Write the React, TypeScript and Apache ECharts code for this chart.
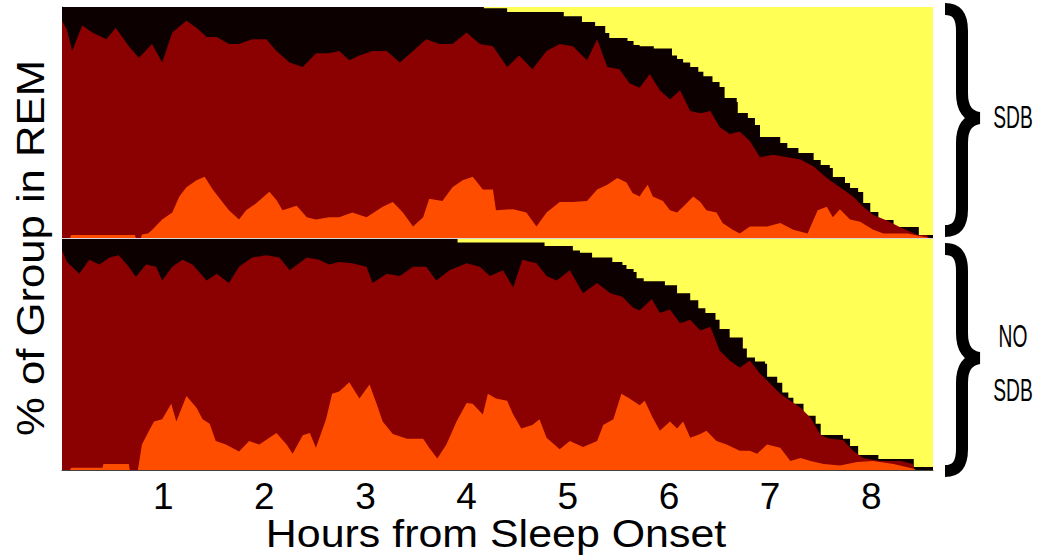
import React, { useEffect, useRef } from "react";
import * as echarts from "echarts";

// Hours from sleep onset covered by the recordings
const HOURS_MAX = 8.61;
const hourTicks = [1, 2, 3, 4, 5, 6, 7, 8];

// Colours for the four states: recording ended, awake, NREM sleep, REM sleep
const ENDED = "#FFFF55";
const WAKE = "#0D0000";
const NREM = "#8B0000";
const REM = "#FF4D00";

// SDB group, [hours, % of group]
// still recorded (awake + asleep)
const sdbRecorded: [number, number][] = [
  [0, 100], [4.17, 99.5], [4.4, 97.8], [4.96, 96], [5.14, 93.5], [5.27, 91.8], [5.37, 88.7],
  [5.41, 86.6], [5.59, 85.3], [5.65, 83.5], [5.71, 83], [5.85, 82], [6.03, 79], [6.08, 77.5],
  [6.14, 76], [6.21, 74], [6.29, 72], [6.34, 70], [6.43, 67.5], [6.5, 65.4], [6.55, 60.6],
  [6.67, 58.9], [6.68, 54.1], [6.78, 51.9], [6.85, 48.9], [6.9, 43.7], [7.1, 41.1], [7.17, 39],
  [7.28, 36.8], [7.43, 33.8], [7.5, 31.6], [7.59, 30.3], [7.62, 26.4], [7.74, 23.8], [7.79, 21.6],
  [7.87, 19.9], [7.92, 15.2], [7.99, 11.3], [8.07, 7.8], [8.22, 4.8], [8.47, 1.3], [8.61, 1.3],
];
// asleep (REM + NREM)
const sdbAsleep: [number, number][] = [
  [0, 94], [0.05, 90], [0.1, 81], [0.2, 92], [0.3, 89], [0.44, 86], [0.53, 91], [0.66, 83],
  [0.76, 78], [0.89, 84], [0.99, 76], [1.09, 89], [1.23, 94], [1.33, 91], [1.43, 87], [1.53, 87],
  [1.65, 84], [1.75, 84], [1.88, 86], [2.02, 86], [2.12, 81], [2.25, 76], [2.38, 74], [2.51, 80],
  [2.64, 80], [2.74, 81], [2.84, 77], [2.94, 79], [3.07, 81], [3.21, 81], [3.34, 76], [3.47, 81],
  [3.6, 86], [3.73, 84], [3.86, 84], [4.0, 89], [4.13, 84], [4.26, 83], [4.4, 74], [4.52, 79],
  [4.65, 73], [4.79, 81], [4.92, 84], [5.05, 83], [5.19, 77], [5.29, 86], [5.39, 74], [5.51, 73],
  [5.61, 67], [5.71, 65], [5.81, 71], [5.91, 64], [6.01, 60], [6.11, 64], [6.21, 55], [6.31, 54],
  [6.41, 55], [6.5, 48], [6.6, 45], [6.7, 46], [6.8, 42], [6.9, 35], [7.03, 36], [7.17, 35],
  [7.3, 34], [7.43, 31], [7.56, 26], [7.69, 22], [7.82, 18], [7.92, 13.5], [8.02, 10], [8.16, 7.5],
  [8.29, 4.5], [8.46, 1.3], [8.55, 1.3], [8.56, 0], [8.61, 0],
];
// in REM
const sdbRem: [number, number][] = [
  [0, 0], [0.08, 0], [0.09, 1.3], [0.72, 1.3], [0.73, 0], [0.78, 0], [0.79, 1.5], [0.85, 2],
  [0.89, 3.5], [0.99, 8], [1.09, 11], [1.16, 18], [1.23, 22], [1.33, 25], [1.41, 26.5], [1.49, 21],
  [1.57, 16.5], [1.65, 12], [1.75, 8], [1.82, 12], [1.92, 15], [2.05, 20], [2.12, 16.5], [2.18, 12],
  [2.32, 14], [2.42, 9], [2.51, 8], [2.64, 9], [2.74, 9], [2.87, 11], [3.01, 9], [3.17, 13.5],
  [3.27, 15.6], [3.37, 11], [3.47, 5], [3.57, 9], [3.63, 17], [3.76, 16], [3.86, 22], [3.96, 25],
  [4.06, 26.5], [4.16, 21], [4.26, 21], [4.29, 12], [4.46, 12.5], [4.59, 11], [4.69, 5], [4.79, 11],
  [4.92, 15.6], [5.05, 15.6], [5.19, 16], [5.29, 21], [5.39, 23], [5.49, 26], [5.58, 24], [5.64, 19.5],
  [5.71, 18], [5.74, 20], [5.79, 23], [5.84, 18], [5.94, 16], [6.01, 12], [6.08, 11], [6.14, 13.5],
  [6.24, 18], [6.31, 15.6], [6.37, 12], [6.47, 11], [6.53, 6.5], [6.63, 3.6], [6.7, 2], [6.8, 5],
  [6.97, 5], [7.1, 6.5], [7.23, 3.6], [7.37, 2], [7.47, 12], [7.56, 13.5], [7.62, 9], [7.69, 12.5],
  [7.79, 8], [7.89, 7], [8.02, 3.6], [8.12, 2], [8.36, 2], [8.49, 0.8], [8.58, 0], [8.61, 0],
];

// NO SDB group, [hours, % of group]
const noSdbRecorded: [number, number][] = [
  [0, 100], [3.91, 98.5], [4.77, 97], [5.05, 95], [5.12, 94], [5.24, 92], [5.44, 90], [5.54, 88.7],
  [5.58, 87], [5.65, 85.7], [5.68, 83], [5.75, 81.7], [5.96, 80], [6.08, 76.5], [6.21, 73.5],
  [6.29, 70], [6.36, 68], [6.46, 65], [6.5, 61], [6.6, 57.4], [6.73, 52.6], [6.77, 48.7], [6.85, 47],
  [6.95, 46], [6.97, 40.4], [7.07, 37.8], [7.12, 33.5], [7.18, 31.3], [7.23, 28.7], [7.33, 23.5],
  [7.45, 20], [7.5, 15.2], [7.72, 13.5], [7.79, 10.4], [7.87, 6.5], [8.07, 4.8], [8.42, 1.3],
  [8.61, 1.3],
];
const noSdbAsleep: [number, number][] = [
  [0, 95], [0.05, 90], [0.1, 88], [0.17, 85], [0.27, 91], [0.37, 89], [0.47, 92], [0.56, 93],
  [0.66, 88], [0.73, 83.5], [0.83, 89], [0.93, 88], [0.99, 82], [1.09, 88], [1.19, 91], [1.29, 89],
  [1.43, 82], [1.53, 85], [1.65, 81], [1.75, 88], [1.88, 92], [2.02, 93], [2.15, 92], [2.25, 86.5],
  [2.42, 92], [2.54, 91], [2.64, 89], [2.74, 90], [2.87, 89.5], [3.01, 88], [3.07, 81], [3.21, 85],
  [3.34, 84], [3.47, 88], [3.6, 88], [3.7, 82], [3.83, 86.5], [4.0, 89.5], [4.13, 88], [4.23, 84],
  [4.36, 86.5], [4.46, 79], [4.55, 91], [4.69, 89.5], [4.79, 84], [4.89, 82], [5.02, 86.5],
  [5.15, 76.5], [5.29, 81], [5.42, 76.5], [5.54, 75], [5.64, 70.5], [5.71, 69], [5.83, 74],
  [5.91, 68], [6.01, 69.5], [6.11, 63.5], [6.21, 65], [6.31, 60.4], [6.41, 62], [6.5, 51.7],
  [6.6, 47.4], [6.7, 44.3], [6.8, 47.4], [6.9, 41.7], [7.0, 37.4], [7.1, 33], [7.2, 30], [7.3, 27],
  [7.4, 22.6], [7.5, 15], [7.59, 13.5], [7.72, 13], [7.82, 8.3], [7.92, 5.2], [8.09, 3.9],
  [8.29, 3.9], [8.41, 2.6], [8.43, 0], [8.61, 0],
];
const noSdbRem: [number, number][] = [
  [0, 0], [0.08, 0], [0.09, 1], [0.4, 1], [0.41, 2.6], [0.66, 2.6], [0.67, 0], [0.75, 0],
  [0.76, 2.6], [0.79, 11], [0.86, 17], [0.91, 21], [0.99, 22], [1.08, 28.7], [1.13, 21], [1.23, 32],
  [1.33, 27], [1.39, 22], [1.46, 20], [1.52, 12.6], [1.62, 11], [1.75, 8], [1.85, 12.6], [1.95, 11],
  [2.05, 14], [2.12, 16], [2.22, 11], [2.28, 7], [2.38, 15], [2.45, 16], [2.51, 9.6], [2.61, 22],
  [2.67, 33], [2.74, 34], [2.84, 38], [2.94, 31], [3.04, 37], [3.11, 28.7], [3.17, 21], [3.27, 15.6],
  [3.41, 13.5], [3.57, 13.5], [3.63, 9.6], [3.71, 5], [3.8, 11], [3.9, 21], [4.0, 29], [4.06, 28.7],
  [4.16, 24], [4.21, 33], [4.29, 31], [4.4, 30], [4.46, 24], [4.54, 18], [4.65, 19.5], [4.72, 22],
  [4.79, 14], [4.92, 9], [5.02, 12.6], [5.15, 10], [5.29, 12.6], [5.35, 19.5], [5.45, 22], [5.53, 33],
  [5.61, 31], [5.71, 28], [5.76, 30], [5.84, 22.6], [5.91, 17], [6.01, 21], [6.08, 18], [6.14, 21],
  [6.21, 14], [6.31, 15.6], [6.37, 17], [6.47, 12.6], [6.57, 11], [6.7, 8.3], [6.8, 8.3], [6.87, 7],
  [6.97, 11], [7.1, 9.6], [7.2, 3.9], [7.3, 5.2], [7.4, 3.9], [7.53, 2.6], [7.69, 2], [7.86, 3.5],
  [8.02, 3.9], [8.22, 2.6], [8.42, 0.5], [8.44, 0], [8.61, 0],
];

const yAxisLabel = "% of Group in REM";
const xAxisLabel = "Hours from Sleep Onset";
const groupLabels = [["SDB"], ["NO", "SDB"]];

const FONT = '"Liberation Sans", Arial, Helvetica, sans-serif';

// Curly brace outline (centre line of a thick stroke), 234 px tall
const BRACE_D =
  "M 0 6 C 11 6 17 12 17 28 L 17 90 C 17 106 23 113 34 115 " +
  "C 23 117 17 124 17 140 L 17 206 C 17 222 11 228 0 228";
echarts.graphic.registerShape("brace", echarts.graphic.extendPath(BRACE_D, {}));

function area(
  name: string,
  data: [number, number][],
  color: string,
  panel: number,
  step: false | "end"
) {
  return {
    type: "line",
    name,
    data,
    xAxisIndex: panel,
    yAxisIndex: panel,
    step,
    symbol: "none",
    showSymbol: false,
    silent: true,
    lineStyle: { width: 0, color },
    areaStyle: { color, opacity: 1, origin: "start" },
  };
}

export default function App() {
  const ref = useRef<HTMLDivElement>(null);

  useEffect(() => {
    if (!ref.current) return;
    const chart = echarts.init(ref.current, undefined, { renderer: "svg" });

    const panelTops = [7, 239];
    const grids = panelTops.map((top) => ({
      left: 62,
      top,
      width: 871,
      height: 231,
      show: true,
      backgroundColor: ENDED,
      borderWidth: 0,
    }));

    const xAxes = [0, 1].map((i) => ({
      type: "value",
      gridIndex: i,
      min: 0,
      max: HOURS_MAX,
      interval: 1,
      position: i === 0 ? "top" : "bottom",
      axisLine: {
        show: true,
        lineStyle: { color: i === 0 ? "#d8d8d8" : "#444", width: 1 },
      },
      axisTick: { show: false },
      splitLine: { show: false },
      axisLabel: {
        show: i === 1,
        fontSize: 37,
        fontFamily: FONT,
        color: "#000",
        margin: 8,
        formatter: (v: number) => (hourTicks.includes(v) ? String(v) : ""),
      },
    }));

    const yAxes = [0, 1].map((i) => ({
      type: "value",
      gridIndex: i,
      min: 0,
      max: 100,
      axisLine: { show: true, lineStyle: { color: "#444", width: 1 } },
      axisTick: { show: false },
      axisLabel: { show: false },
      splitLine: { show: false },
    }));

    const series = [
      area("SDB recorded", sdbRecorded, WAKE, 0, "end"),
      area("SDB asleep", sdbAsleep, NREM, 0, false),
      area("SDB REM", sdbRem, REM, 0, false),
      area("NO SDB recorded", noSdbRecorded, WAKE, 1, "end"),
      area("NO SDB asleep", noSdbAsleep, NREM, 1, false),
      area("NO SDB REM", noSdbRem, REM, 1, false),
    ];

    const braceStyle = {
      fill: "none",
      stroke: "#000",
      lineWidth: 12,
      lineJoin: "miter",
      miterLimit: 10,
    };

    const labelStyle = (text: string) => ({
      text,
      x: 0,
      y: 0,
      align: "center",
      verticalAlign: "middle",
      fontSize: 31,
      fontFamily: FONT,
      fill: "#000",
    });

    const graphic = [
      { type: "brace", x: 945, y: 3, silent: true, style: braceStyle },
      { type: "brace", x: 945, y: 243, silent: true, style: braceStyle },
      {
        type: "text",
        x: 1013,
        y: 117,
        scaleX: 0.62,
        silent: true,
        style: labelStyle(groupLabels[0][0]),
      },
      {
        type: "text",
        x: 1013,
        y: 336,
        scaleX: 0.62,
        silent: true,
        style: labelStyle(groupLabels[1][0]),
      },
      {
        type: "text",
        x: 1013,
        y: 390,
        scaleX: 0.62,
        silent: true,
        style: labelStyle(groupLabels[1][1]),
      },
      {
        type: "text",
        x: 496,
        y: 534,
        scaleX: 1.13,
        silent: true,
        style: {
          text: xAxisLabel,
          x: 0,
          y: 0,
          align: "center",
          verticalAlign: "middle",
          fontSize: 38,
          fontFamily: FONT,
          fill: "#000",
        },
      },
      {
        type: "text",
        x: 31,
        y: 248,
        rotation: Math.PI / 2,
        scaleX: 1.12,
        silent: true,
        style: {
          text: yAxisLabel,
          x: 0,
          y: 0,
          align: "center",
          verticalAlign: "middle",
          fontSize: 39,
          fontFamily: FONT,
          fill: "#000",
        },
      },
    ];

    chart.setOption({
      animation: false,
      backgroundColor: "#fff",
      grid: grids,
      xAxis: xAxes,
      yAxis: yAxes,
      series,
      graphic,
    });

    return () => chart.dispose();
  }, []);

  return (
    <div
      ref={ref}
      style={{ position: "absolute", left: 0, top: 0, width: 1039, height: 558 }}
    />
  );
}
